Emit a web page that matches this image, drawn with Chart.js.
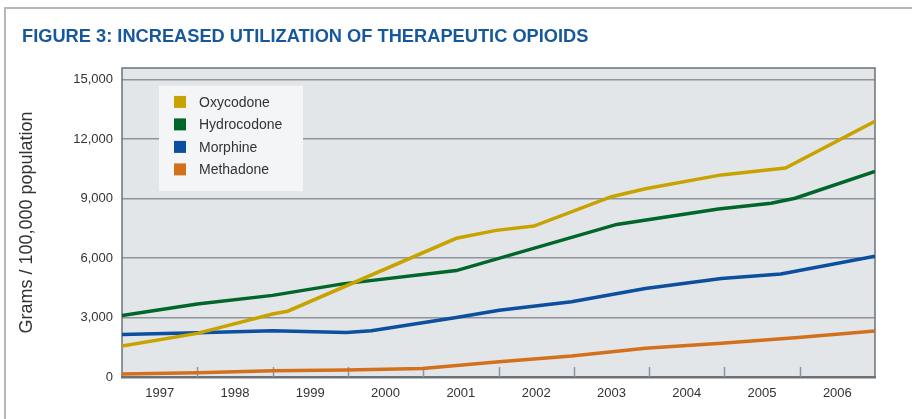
<!DOCTYPE html>
<html>
<head>
<meta charset="utf-8">
<script src="https://cdn.jsdelivr.net/npm/chart.js@4/dist/chart.umd.min.js"></script>
<style>
  html, body { margin: 0; padding: 0; background: #fff; overflow: hidden; }
  canvas { display: block; }
</style>
</head>
<body>
<canvas id="grafico" width="912" height="419"></canvas>
<script>
// anos (rótulos do eixo x) e ticks do eixo y
const anos = [1997, 1998, 1999, 2000, 2001, 2002, 2003, 2004, 2005, 2006];
const ticksY = [0, 3000, 6000, 9000, 12000, 15000];

// séries (posição no tempo, gramas / 100.000 hab.)
const oxicodonaX = [1996.5, 1997.5, 1998.5, 1998.7, 2000.94, 2001.47, 2001.97, 2003.0, 2003.45, 2004.46, 2005.31, 2006.5];
const oxicodonaY = [1560, 2200, 3180, 3320, 7000, 7400, 7620, 9100, 9500, 10200, 10550, 12900];

const hidrocodonaX = [1996.5, 1997.5, 1998.5, 1999.43, 2000.94, 2003.07, 2004.42, 2005.12, 2005.44, 2006.5];
const hidrocodonaY = [3100, 3680, 4120, 4700, 5370, 7700, 8480, 8770, 9020, 10370];

const morfinaX = [1996.5, 1997.5, 1998.5, 1999.48, 1999.81, 2000.94, 2001.51, 2002.47, 2003.45, 2004.46, 2005.25, 2006.5];
const morfinaY = [2150, 2230, 2330, 2250, 2330, 3000, 3370, 3800, 4470, 4970, 5200, 6100];

const metadonaX = [1996.5, 1997.5, 1998.5, 1999.48, 2000.49, 2001.51, 2002.47, 2003.45, 2004.46, 2005.48, 2006.5];
const metadonaY = [150, 210, 310, 350, 430, 770, 1060, 1450, 1700, 1990, 2320];

const nomes = ['Oxycodone', 'Hydrocodone', 'Morphine', 'Methadone'];
const cores = ['#c8a300', '#006629', '#0b4f9e', '#d3701c'];

function pontos(xs, ys) {
    return xs.map((x, i) => ({ x: x, y: ys[i] }));
}

const series = [
    pontos(oxicodonaX, oxicodonaY),
    pontos(hidrocodonaX, hidrocodonaY),
    pontos(morfinaX, morfinaY),
    pontos(metadonaX, metadonaY)
];

// fundo cinza e moldura da área do gráfico + marcas entre os anos
const fundoArea = {
    id: 'fundoArea',
    afterLayout(chart) {
        // título começa um pouco para dentro, como na figura
        if (chart.titleBlock) chart.titleBlock.left = 22;
    },
    beforeDraw(chart) {
        const { ctx, chartArea: a, width, height } = chart;
        ctx.save();
        // moldura externa da figura (só topo e esquerda aparecem)
        ctx.strokeStyle = '#b4b8bc';
        ctx.lineWidth = 2;
        ctx.beginPath();
        ctx.moveTo(5, height);
        ctx.lineTo(5, 8);
        ctx.lineTo(width, 8);
        ctx.stroke();
        ctx.fillStyle = '#e2e6e9';
        ctx.fillRect(a.left, a.top, a.right - a.left, a.bottom - a.top);
        ctx.restore();
    },
    beforeDatasetsDraw(chart) {
        const { ctx, chartArea: a, scales } = chart;
        ctx.save();
        ctx.strokeStyle = '#8e949a';
        ctx.lineWidth = 1.5;
        anos.slice(0, -1).forEach(ano => {
            const px = Math.round(scales.x.getPixelForValue(ano + 0.5)) + 0.5;
            ctx.beginPath();
            ctx.moveTo(px, a.bottom);
            ctx.lineTo(px, a.bottom - 10);
            ctx.stroke();
        });
        ctx.strokeStyle = '#6b7378';
        ctx.lineWidth = 1.5;
        ctx.beginPath();
        ctx.moveTo(a.left, a.bottom);
        ctx.lineTo(a.left, a.top);
        ctx.lineTo(a.right, a.top);
        ctx.lineTo(a.right, a.bottom);
        ctx.stroke();
        ctx.restore();
    }
};

// legenda em caixa clara dentro da área
const legendaCaixa = {
    id: 'legendaCaixa',
    afterDatasetsDraw(chart) {
        const { ctx, chartArea: a } = chart;
        const x0 = a.left + 37, y0 = a.top + 18;
        ctx.save();
        ctx.fillStyle = '#f4f5f7';
        ctx.fillRect(x0, y0, 144, 105);
        ctx.font = '14px "Liberation Sans", Arial, sans-serif';
        ctx.textBaseline = 'middle';
        chart.data.datasets.forEach((ds, i) => {
            const cy = y0 + 16 + i * 22.5;
            ctx.fillStyle = ds.borderColor;
            ctx.fillRect(x0 + 15, cy - 6, 12, 12);
            ctx.fillStyle = '#333';
            ctx.fillText(ds.label, x0 + 40, cy + 1);
        });
        ctx.restore();
    }
};

new Chart(document.getElementById('grafico'), {
    type: 'line',
    data: {
        datasets: series.map((d, i) => ({
            label: nomes[i],
            data: d,
            borderColor: cores[i],
            backgroundColor: cores[i],
            borderWidth: 3.5,
            pointRadius: 0,
            tension: 0,
            fill: false
        }))
    },
    options: {
        responsive: false,
        animation: false,
        layout: { padding: { left: 0, right: 37, top: 0, bottom: 0 } },
        plugins: {
            legend: { display: false },
            tooltip: { enabled: false },
            title: {
                display: true,
                text: 'FIGURE 3: INCREASED UTILIZATION OF THERAPEUTIC OPIOIDS',
                align: 'start',
                color: '#17589c',
                font: { family: '"Liberation Sans", Arial, sans-serif', size: 18.25, weight: 'bold', lineHeight: 1.2 },
                padding: { top: 26, bottom: 20 }
            }
        },
        scales: {
            x: {
                type: 'linear',
                min: 1996.5,
                max: 2006.5,
                afterBuildTicks: s => { s.ticks = anos.map(v => ({ value: v })); },
                afterFit: s => { s.height = 42; },
                grid: { display: false },
                border: { color: '#6b7378', width: 2.5 },
                ticks: {
                    color: '#333',
                    padding: 1,
                    maxRotation: 0,
                    font: { family: '"Liberation Sans", Arial, sans-serif', size: 13 },
                    callback: v => String(v)
                }
            },
            y: {
                min: 0,
                max: 15600,
                afterBuildTicks: s => { s.ticks = ticksY.map(v => ({ value: v })); },
                afterFit: s => { s.width = 122; },
                grid: {
                    color: ctx => (ctx.tick && ctx.tick.value === 0 ? 'rgba(0,0,0,0)' : '#8e949a'),
                    lineWidth: 1.5,
                    drawTicks: false
                },
                border: { display: false },
                ticks: {
                    color: '#333',
                    padding: 9,
                    font: { family: '"Liberation Sans", Arial, sans-serif', size: 13 },
                    callback: v => v.toLocaleString('en-US')
                },
                title: {
                    display: true,
                    text: 'Grams / 100,000 population',
                    color: '#333',
                    font: { family: '"Liberation Sans", Arial, sans-serif', size: 18 },
                    padding: { top: 16, bottom: 0 }
                }
            }
        }
    },
    plugins: [fundoArea, legendaCaixa]
});
</script>
</body>
</html>
